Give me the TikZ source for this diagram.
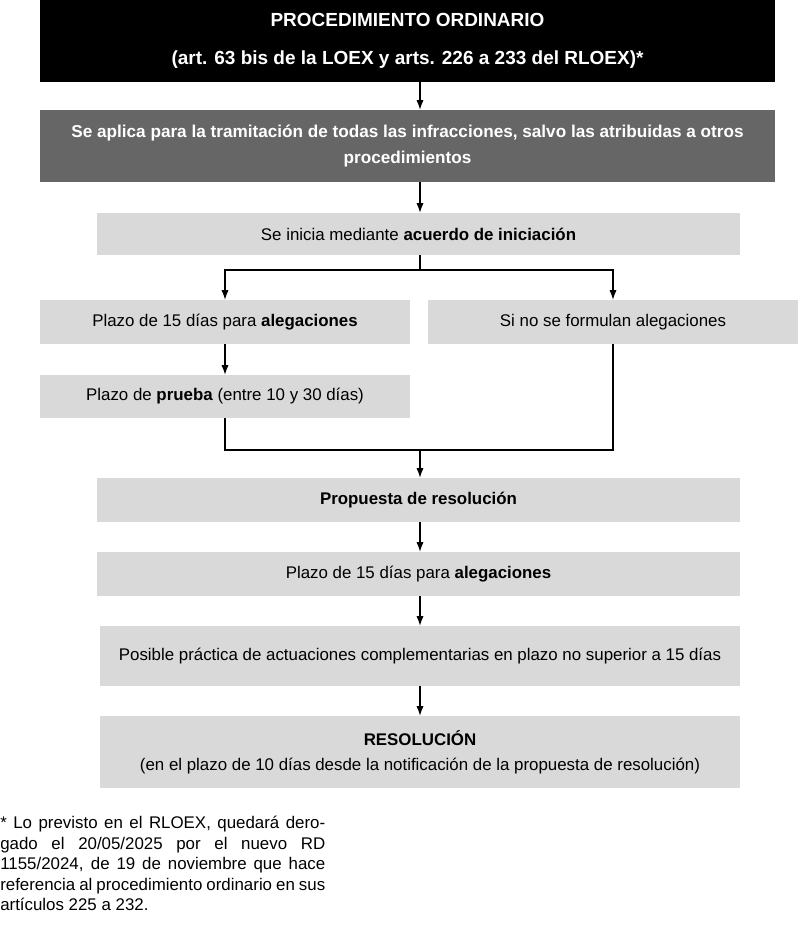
\documentclass[tikz,border=0pt]{standalone}
\usepackage{fontspec}
\setmainfont{Liberation Sans}
\usepackage{xcolor}
\usetikzlibrary{positioning}
\usetikzlibrary{arrows.meta}
\usetikzlibrary{calc}
\definecolor{boxgray}{HTML}{D9D9D9}
\definecolor{darkbox}{HTML}{666666}
\tikzset{
  lbox/.style={fill=boxgray, inner sep=2pt, align=center, font=\fontsize{12}{17}\selectfont},
  flow/.style={-{Latex[length=2.4mm,width=1.8mm]}, thick},
  plain/.style={thick}
}
\begin{document}
\begin{tikzpicture}[x=0.025cm,y=-0.025cm]
 \useasboundingbox (0,0) rectangle (800,952);

 % head boxes
 \node[fill=black, text=white, font=\bfseries\fontsize{13.5}{27}\selectfont, align=center,
   minimum width=735*0.025cm, minimum height=82*0.025cm, inner sep=0pt] (head) at (407.5,41)
   {PROCEDIMIENTO ORDINARIO\\(art. 63 bis de la LOEX y arts. 226 a 233 del RLOEX)*};
 \node[fill=darkbox, text=white, font=\bfseries\fontsize{12.2}{19}\selectfont, align=center,
   minimum width=735*0.025cm, minimum height=72*0.025cm, inner sep=0pt] (scope) at (407.5,146)
   {Se aplica para la tramitación de todas las infracciones, salvo las atribuidas a otros\\procedimientos};

 % gray boxes
 \node[lbox, minimum width=643*0.025cm, minimum height=42*0.025cm] (start) at (418.5,234)
   {Se inicia mediante \textbf{acuerdo de iniciación}};
 \node[lbox, minimum width=370*0.025cm, minimum height=44*0.025cm] (alleg) at (225,322)
   {Plazo de 15 días para \textbf{alegaciones}};
 \node[lbox, minimum width=370*0.025cm, minimum height=44*0.025cm] (noalleg) at (613,322)
   {Si no se formulan alegaciones};
 \node[lbox, minimum width=370*0.025cm, minimum height=43*0.025cm] (proof) at (225,396.5)
   {Plazo de \textbf{prueba} (entre 10 y 30 días)};
 \node[lbox, minimum width=643*0.025cm, minimum height=44*0.025cm] (prop) at (418.5,500)
   {\textbf{Propuesta de resolución}};
 \node[lbox, minimum width=643*0.025cm, minimum height=44*0.025cm] (alleg2) at (418.5,574)
   {Plazo de 15 días para \textbf{alegaciones}};
 \node[lbox, minimum width=640*0.025cm, minimum height=60*0.025cm] (extra) at (420,656)
   {Posible práctica de actuaciones complementarias en plazo no superior a 15 días};
 \node[lbox, minimum width=640*0.025cm, minimum height=72*0.025cm, font=\fontsize{12}{18}\selectfont] (res) at (420,752)
   {\textbf{RESOLUCIÓN}\\(en el plazo de 10 días desde la notificación de la propuesta de resolución)};

 % footnote
 \node[anchor=north west, text width=325*0.025cm, inner sep=0pt, align=justify,
   font=\fontsize{12}{14.6}\selectfont] (note) at (0,816)
   {\hyphenpenalty=10000\relax * Lo previsto en el RLOEX, quedará derogado el 20/05/2025 por el nuevo RD 1155/2024, de 19 de noviembre que hace referencia al procedimiento ordinario en sus artículos 225 a 232.};

 % connectors
 \coordinate (split) at (420,270);
 \coordinate (join) at (420,450);
 \draw[flow] (head.south -| 420,0) -- (scope.north -| 420,0);
 \draw[flow] (scope.south -| 420,0) -- (start.north -| 420,0);
 \draw[plain] (start.south -| split) -- (split);
 \foreach \dest in {alleg, noalleg}
   \draw[flow] (split) -| (\dest.north);
 \draw[flow] (alleg) -- (proof);
 \draw[plain] (proof.south) |- (join) -| (noalleg.south);
 \draw[flow] (join) -- (prop.north -| join);
 \foreach \source/\dest in {prop/alleg2, alleg2/extra, extra/res}
   \draw[flow] (\source.south -| join) -- (\dest.north -| join);
\end{tikzpicture}
\end{document}
